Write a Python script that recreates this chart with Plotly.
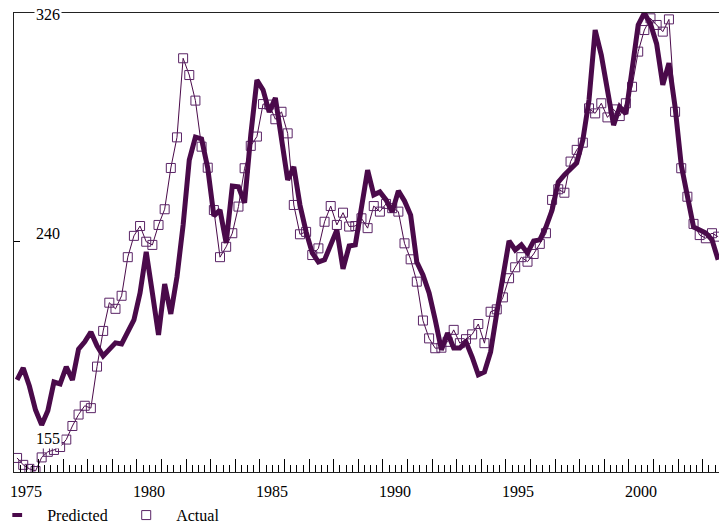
import pandas as pd
import plotly.graph_objects as go

# ---- data (quarterly, 1975Q1 .. 2003Q3) ----
quarters = pd.period_range("1975Q1", periods=115, freq="Q")

actual = [158.9, 156.3, 154.8, 154.0, 159.1, 161.2, 161.9, 163.0, 165.8, 170.9,
          175.2, 178.5, 177.6, 193.2, 206.6, 217.2, 214.9, 219.8, 234.3, 242.3,
          246.0, 240.1, 238.9, 246.4, 252.3, 267.8, 279.3, 309.0, 302.7, 293.1,
          275.8, 267.9, 252.0, 234.3, 238.2, 243.3, 253.3, 267.7, 276.1, 279.6,
          291.8, 291.6, 286.1, 288.9, 280.8, 253.9, 242.9, 243.8, 235.1, 237.6,
          247.6, 253.5, 246.4, 251.0, 245.8, 246.0, 248.9, 245.2, 253.5, 251.4,
          254.3, 252.7, 251.4, 239.5, 233.5, 225.1, 210.5, 203.8, 200.1, 200.3,
          202.5, 207.0, 202.0, 203.5, 205.3, 209.2, 202.0, 213.8, 214.7, 219.2,
          226.4, 230.5, 234.3, 232.6, 235.5, 239.3, 243.3, 255.8, 259.8, 258.5,
          270.2, 274.6, 277.3, 290.2, 288.3, 292.1, 286.8, 289.8, 287.3, 292.1,
          298.3, 311.5, 319.6, 324.0, 321.5, 319.0, 323.6, 288.9, 267.7, 257.0,
          246.8, 242.6, 241.4, 243.3, 242.0]

predicted = [188.2, 192.7, 185.9, 176.9, 171.3, 176.6, 187.4, 186.7, 193.1, 188.2,
             199.8, 202.5, 206.2, 201.0, 197.2, 199.5, 202.1, 201.7, 206.6, 210.7,
             220.9, 236.3, 220.9, 205.1, 224.2, 213.0, 226.9, 246.4, 270.8, 279.4,
             278.7, 267.8, 249.8, 252.0, 239.6, 261.0, 260.7, 254.7, 280.2, 300.8,
             297.1, 288.8, 294.1, 278.3, 263.3, 268.2, 253.9, 243.8, 235.9, 232.5,
             233.3, 238.9, 244.5, 229.9, 238.5, 238.9, 253.9, 267.0, 257.7, 258.8,
             255.8, 251.3, 259.2, 255.4, 250.1, 232.5, 227.6, 220.9, 210.7, 199.5,
             205.8, 200.2, 200.2, 202.5, 196.8, 190.1, 191.2, 198.7, 213.3, 225.7,
             240.4, 237.0, 238.9, 235.9, 240.4, 240.8, 245.6, 252.0, 262.5, 265.2,
             267.8, 269.7, 278.3, 293.3, 319.6, 310.2, 297.1, 283.9, 290.7, 288.1,
             304.6, 321.5, 326.0, 321.9, 314.4, 299.0, 307.2, 290.7, 268.9, 256.9,
             245.6, 244.5, 243.4, 240.8, 233.3]

year_labels = ["1975", "1980", "1985", "1990", "1995", "2000"]
y_labels = ["326", "240", "155"]
series_names = ["Predicted", "Actual"]

# decimal mid-quarter positions
xq = [p.year + (p.quarter - 1) * 0.25 + 0.125 for p in quarters]

C = "#4a0a4a"
CM = "#5a2466"
FONT = "Liberation Serif"

fig = go.Figure()
fig.add_trace(go.Scatter(
    x=xq, y=actual, mode="lines+markers", showlegend=False,
    line=dict(color=C, width=1),
    marker=dict(symbol="square-open", size=9, color=CM, line=dict(width=1)),
))
fig.add_trace(go.Scatter(
    x=xq, y=predicted, mode="lines", showlegend=False,
    line=dict(color=C, width=5),
))
# legend entries
fig.add_trace(go.Scatter(
    x=[None], y=[None], mode="markers", name=series_names[0],
    marker=dict(symbol="line-ew-open", size=7, color=C, line=dict(width=4, color=C)),
))
fig.add_trace(go.Scatter(
    x=[None], y=[None], mode="markers", name=series_names[1],
    marker=dict(symbol="square-open", size=9, color=CM, line=dict(width=1)),
))

ymin, ymax = 153.62, 326.0
annotations = []
for lab in year_labels:
    annotations.append(dict(
        x=int(lab) + 0.5, y=-0.0414, xref="x", yref="paper", text=lab,
        showarrow=False, xanchor="center", yanchor="middle",
        font=dict(family=FONT, size=16, color="black")))
ypix = {"326": 14, "240": 233, "155": 438}
for lab in y_labels:
    annotations.append(dict(
        x=(48 - 14) / 705, y=(472 - ypix[lab]) / 459, xref="paper", yref="paper",
        text=lab, showarrow=False, xanchor="center", yanchor="middle",
        bgcolor="white", borderpad=1,
        font=dict(family=FONT, size=16, color="black")))

fig.update_layout(
    width=719, height=529,
    margin=dict(l=14, r=0, t=13, b=57, autoexpand=False),
    plot_bgcolor="white", paper_bgcolor="white",
    font=dict(family=FONT, size=16, color="black"),
    annotations=annotations,
    legend=dict(orientation="h", x=-0.038, y=-0.057, xanchor="left", yanchor="top",
                itemwidth=50, entrywidth=64, entrywidthmode="pixels",
                font=dict(family=FONT, size=16, color="black"),
                bgcolor="rgba(0,0,0,0)"),
    xaxis=dict(range=[1975, 2003.66], showgrid=False, zeroline=False,
               showline=True, linecolor="#222", linewidth=1, mirror=True,
               ticks="inside", tickmode="linear", tick0=1975, dtick=1,
               ticklen=13, tickcolor="black", tickwidth=1, showticklabels=False,
               minor=dict(ticks="inside", ticklen=7, tickmode="linear", tick0=1975,
                          dtick=0.25, tickcolor="black", tickwidth=1, showgrid=False)),
    yaxis=dict(range=[ymin, ymax], showgrid=False, zeroline=False,
               showline=True, linecolor="#222", linewidth=1,
               ticks="inside", tickvals=[240], ticklen=6, tickcolor="black",
               showticklabels=False),
)

fig.write_html("out.html", config={"displayModeBar": False},
               post_script="document.body.style.margin='0';document.body.style.overflow='hidden';")
